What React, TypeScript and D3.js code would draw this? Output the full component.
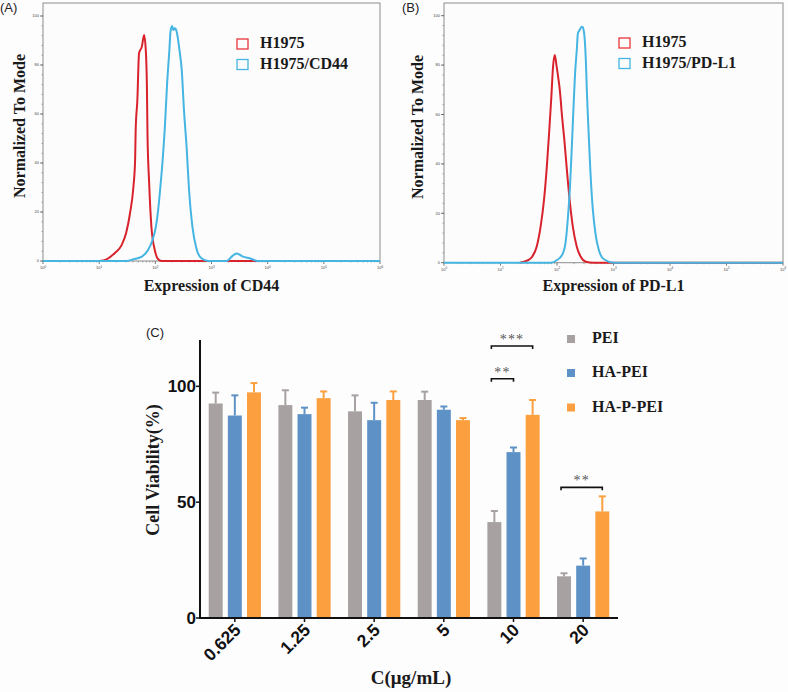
import React from "react";
import * as d3 from "d3";

// ---------- Panel A / B : flow cytometry histograms (x stored as log10 intensity) ----------
const cd44ControlLog = [1.0, 1.13, 1.28, 1.4, 1.48, 1.55, 1.61, 1.64, 1.65, 1.68, 1.71, 1.76, 1.8, 1.83, 1.85, 1.86, 1.89, 1.93, 1.99, 2.05, 2.11, 6.0];
const cd44ControlVal = [0, 0.7, 3.3, 6.5, 11.4, 19.6, 30.3, 41.2, 53.5, 65.7, 84.8, 87.5, 92.2, 86.1, 71.1, 52.2, 31.8, 14.0, 4.5, 0.7, 0, 0];
const cd44PosLog = [0.0, 1.49, 1.61, 1.76, 1.87, 1.95, 2.01, 2.05, 2.09, 2.13, 2.17, 2.21, 2.25, 2.27, 2.3, 2.32, 2.35, 2.38, 2.43, 2.47, 2.51, 2.56, 2.6, 2.66, 2.73, 2.82, 2.94, 3.27, 3.36, 3.45, 3.56, 3.68, 3.83, 6.0];
const cd44PosVal = [0, 0, 0.7, 1.8, 4.5, 8.6, 14.0, 20.8, 30.3, 41.2, 54.8, 72.5, 86.1, 93.6, 95.9, 94.3, 95.0, 93.6, 86.1, 78.0, 61.6, 45.3, 29.0, 14.0, 5.2, 1.1, 0, 0, 1.8, 3.1, 1.8, 1.1, 0, 0];

const pdl1ControlLog = [1.34, 1.47, 1.56, 1.64, 1.71, 1.77, 1.82, 1.86, 1.9, 1.93, 1.96, 1.99, 2.02, 2.05, 2.09, 2.13, 2.18, 2.23, 2.28, 2.35, 2.42, 2.51, 2.65, 6.0];
const pdl1ControlVal = [0, 0.8, 2.4, 6.5, 14.6, 25.4, 38.9, 52.4, 67.2, 79.4, 84.1, 80.0, 75.3, 69.9, 59.1, 49.7, 36.2, 24.0, 14.6, 6.5, 2.4, 0.4, 0, 0];
const pdl1PosLog = [0.0, 1.89, 2.0, 2.09, 2.15, 2.19, 2.23, 2.26, 2.29, 2.32, 2.35, 2.37, 2.4, 2.43, 2.45, 2.48, 2.51, 2.53, 2.56, 2.59, 2.63, 2.68, 2.74, 2.83, 3.01, 6.0];
const pdl1PosVal = [0, 0, 1.1, 3.1, 7.9, 17.3, 30.8, 45.6, 61.8, 76.7, 86.1, 92.9, 94.2, 95.3, 95.5, 92.9, 82.1, 68.6, 52.4, 37.5, 22.7, 11.9, 5.1, 1.4, 0, 0];

const histYTicks = [0, 20, 40, 60, 80, 100];
const histXDecades = [0, 1, 2, 3, 4, 5, 6];

// ---------- Panel C : cell viability ----------
const concentrations = ["0.625", "1.25", "2.5", "5", "10", "20"];
const seriesNames = ["PEI", "HA-PEI", "HA-P-PEI"];
const peiMean = [92.6, 91.9, 89.2, 94.1, 41.4, 18.0];
const peiSd = [4.7, 6.4, 6.9, 3.6, 4.8, 1.3];
const haPeiMean = [87.4, 88.0, 85.4, 89.9, 71.6, 22.6];
const haPeiSd = [8.7, 2.8, 7.5, 1.4, 2.0, 3.1];
const hapPeiMean = [97.4, 94.9, 94.1, 85.4, 87.7, 46.0];
const hapPeiSd = [4.0, 2.9, 3.7, 0.9, 6.4, 6.5];
const viabilityTicks = [0, 50, 100];
const sigCategory = ["10", "10", "20"];
const sigFrom = ["PEI", "PEI", "PEI"];
const sigTo = ["HA-P-PEI", "HA-PEI", "HA-P-PEI"];
const sigLevel = [117.4, 103.3, 56.4];
const sigLabel = ["***", "**", "**"];

const SERIF = "'Liberation Serif', 'Times New Roman', serif";
const SANS = "'Liberation Sans', Arial, sans-serif";
const RED = "#d8232c";
const CYAN = "#45b5e2";
const BAR_COLORS = ["#a7a1a1", "#5e92c6", "#fb9f3f"];

type HistProps = {
  left: number; right: number; top: number; zeroY: number; hundredY: number;
  ctrlLog: number[]; ctrlVal: number[]; posLog: number[]; posVal: number[];
  title: string; posLabel: string; legendX: number; legendY: number;
  yTitleX: number; yTitleY: number; label: string; labelX: number;
};

function Histogram(p: HistProps) {
  const x = d3.scaleLog().domain([1, 1e6]).range([p.left, p.right]);
  const y = d3.scaleLinear().domain([0, 100]).range([p.zeroY, p.hundredY]);
  const line = d3.line<[number, number]>()
    .x((d) => x(Math.pow(10, d[0])))
    .y((d) => y(d[1]))
    .curve(d3.curveMonotoneX);
  const ctrl = p.ctrlLog.map((v, i) => [v, p.ctrlVal[i]] as [number, number]);
  const pos = p.posLog.map((v, i) => [v, p.posVal[i]] as [number, number]);
  const minorX: number[] = [];
  for (let k = 0; k < 6; k++) for (let m = 2; m <= 9; m++) minorX.push(m * Math.pow(10, k));
  const minorY = d3.range(0, 101, 4);
  const cx = (p.left + p.right) / 2;
  return (
    <g>
      <text x={p.labelX} y={12} fontFamily={SANS} fontSize={13} fill="#222">{p.label}</text>
      <rect x={p.left} y={p.top} width={p.right - p.left} height={p.zeroY - p.top} fill="#fdfcfd" stroke="#8c8c8c" strokeWidth={1} />
      {minorY.map((v) => (
        <line key={"my" + v} x1={p.left - 1.5} x2={p.left} y1={y(v)} y2={y(v)} stroke="#777" strokeWidth={0.6} />
      ))}
      {histYTicks.map((v) => (
        <g key={"yt" + v}>
          <line x1={p.left - 3} x2={p.left} y1={y(v)} y2={y(v)} stroke="#555" strokeWidth={0.8} />
          <text x={p.left - 4} y={y(v) + 1.3} fontSize={4} textAnchor="end" fontFamily={SANS} fill="#444">{v}</text>
        </g>
      ))}
      {minorX.map((v) => (
        <line key={"mx" + v} x1={x(v)} x2={x(v)} y1={p.zeroY} y2={p.zeroY + 1.5} stroke="#777" strokeWidth={0.6} />
      ))}
      {histXDecades.map((k) => (
        <g key={"xt" + k}>
          <line x1={x(Math.pow(10, k))} x2={x(Math.pow(10, k))} y1={p.zeroY} y2={p.zeroY + 3} stroke="#555" strokeWidth={0.8} />
          <text x={x(Math.pow(10, k))} y={p.zeroY + 8} fontSize={4} textAnchor="middle" fontFamily={SANS} fill="#444">
            10<tspan dy={-1.5} fontSize={3}>{k}</tspan>
          </text>
        </g>
      ))}
      <path d={line(ctrl) || ""} fill="none" stroke={RED} strokeWidth={2} strokeLinejoin="round" />
      <path d={line(pos) || ""} fill="none" stroke={CYAN} strokeWidth={2} strokeLinejoin="round" />
      <rect x={p.legendX} y={p.legendY} width={11} height={10} fill="none" stroke="#e8363c" strokeWidth={1.3} />
      <text x={p.legendX + 23} y={p.legendY + 9} fontFamily={SERIF} fontWeight="bold" fontSize={16} fill="#1a1a1a">H1975</text>
      <rect x={p.legendX} y={p.legendY + 20.5} width={11} height={10} fill="none" stroke={CYAN} strokeWidth={1.3} />
      <text x={p.legendX + 23} y={p.legendY + 29.5} fontFamily={SERIF} fontWeight="bold" fontSize={16} fill="#1a1a1a">{p.posLabel}</text>
      <text transform={`translate(${p.yTitleX},${p.yTitleY}) rotate(-90)`} textAnchor="middle" fontFamily={SERIF} fontWeight="bold" fontSize={16} fill="#1a1a1a">Normalized To Mode</text>
      <text x={cx} y={291} textAnchor="middle" fontFamily={SERIF} fontWeight="bold" fontSize={16} fill="#1a1a1a">{p.title}</text>
    </g>
  );
}

function BarPanel() {
  const left = 200, right = 618, bottom = 618, top = 340;
  const means = [peiMean, haPeiMean, hapPeiMean];
  const sds = [peiSd, haPeiSd, hapPeiSd];
  const x0 = d3.scaleBand<string>().domain(concentrations).range([left, right]).paddingInner(0.25).paddingOuter(0.125);
  const x1 = d3.scaleBand<string>().domain(seriesNames).range([0, x0.bandwidth()]).paddingInner(0.27);
  const y = d3.scaleLinear().domain([0, 120]).range([bottom, top]);
  const bw = x1.bandwidth();
  const cxOf = (cat: string, s: string) => (x0(cat) || 0) + (x1(s) || 0) + bw / 2;
  return (
    <g>
      <text x={146} y={337} fontFamily={SANS} fontSize={13} fill="#222">(C)</text>
      {concentrations.map((c, ci) => (
        <g key={c}>
          {seriesNames.map((s, si) => {
            const v = means[si][ci];
            const e = v + sds[si][ci];
            const bx = (x0(c) || 0) + (x1(s) || 0);
            const cx = bx + bw / 2;
            return (
              <g key={s}>
                <line x1={cx} x2={cx} y1={y(v)} y2={y(e)} stroke={BAR_COLORS[si]} strokeWidth={2} />
                <line x1={cx - 3.5} x2={cx + 3.5} y1={y(e)} y2={y(e)} stroke={BAR_COLORS[si]} strokeWidth={2} />
                <rect x={bx} y={y(v)} width={bw} height={bottom - y(v)} fill={BAR_COLORS[si]} />
              </g>
            );
          })}
        </g>
      ))}
      {/* axes */}
      <line x1={left} x2={left} y1={top} y2={bottom + 1} stroke="#111" strokeWidth={2} />
      <line x1={left - 1} x2={right} y1={bottom} y2={bottom} stroke="#111" strokeWidth={2} />
      {viabilityTicks.map((t) => (
        <g key={t}>
          <line x1={left - 4} x2={left} y1={y(t)} y2={y(t)} stroke="#111" strokeWidth={1.5} />
          <text x={left - 4} y={y(t) + 6} textAnchor="end" fontFamily={SANS} fontWeight="bold" fontSize={17} fill="#111">{t}</text>
        </g>
      ))}
      {concentrations.map((c) => {
        const cx = (x0(c) || 0) + x0.bandwidth() / 2;
        return (
          <g key={"xt" + c}>
            <line x1={cx} x2={cx} y1={bottom} y2={bottom + 4} stroke="#111" strokeWidth={1.5} />
            <text transform={`translate(${cx + 7},${bottom + 13}) rotate(-45)`} textAnchor="end" fontFamily={SANS} fontWeight="bold" fontSize={17.5} fill="#111">{c}</text>
          </g>
        );
      })}
      <text transform={`translate(159,470) rotate(-90)`} textAnchor="middle" fontFamily={SERIF} fontWeight="bold" fontSize={18} fill="#1a1a1a">Cell Viability(%)</text>
      <text x={411} y={684} textAnchor="middle" fontFamily={SERIF} fontWeight="bold" fontSize={19} fill="#1a1a1a">C(μg/mL)</text>
      {/* significance brackets */}
      {sigLabel.map((lab, i) => {
        const xa = cxOf(sigCategory[i], sigFrom[i]) - 3;
        const xb = cxOf(sigCategory[i], sigTo[i]);
        const yy = y(sigLevel[i]);
        return (
          <g key={"sig" + i}>
            <path d={`M${xa},${yy + 3}V${yy}H${xb}V${yy + 3}`} fill="none" stroke="#111" strokeWidth={1.6} />
            <text x={(xa + xb) / 2} y={yy - 2} textAnchor="middle" fontFamily={SERIF} fontSize={14} letterSpacing={1.2} fill="#555">{lab}</text>
          </g>
        );
      })}
      {/* legend */}
      {seriesNames.map((s, i) => {
        const ly = [343, 377, 411.5][i];
        return (
          <g key={"lg" + s}>
            <rect x={567} y={ly - 8} width={8} height={8} fill={BAR_COLORS[i]} />
            <text x={592} y={ly} fontFamily={SERIF} fontWeight="bold" fontSize={16} fill="#1a1a1a">{s}</text>
          </g>
        );
      })}
    </g>
  );
}

export default function App() {
  return (
    <div style={{ position: "absolute", left: 0, top: 0 }}>
      <svg width={788} height={692} viewBox="0 0 788 692" style={{ display: "block", background: "#fefdfe" }}>
        <Histogram left={43} right={380} top={3} zeroY={261} hundredY={16}
          ctrlLog={cd44ControlLog} ctrlVal={cd44ControlVal} posLog={cd44PosLog} posVal={cd44PosVal}
          title="Expression of CD44" posLabel="H1975/CD44" legendX={237} legendY={39}
          yTitleX={25} yTitleY={126} label="(A)" labelX={0} />
        <Histogram left={444} right={783} top={3} zeroY={262.7} hundredY={15.7}
          ctrlLog={pdl1ControlLog} ctrlVal={pdl1ControlVal} posLog={pdl1PosLog} posVal={pdl1PosVal}
          title="Expression of PD-L1" posLabel="H1975/PD-L1" legendX={619} legendY={38}
          yTitleX={423} yTitleY={127} label="(B)" labelX={402} />
        <BarPanel />
      </svg>
    </div>
  );
}
